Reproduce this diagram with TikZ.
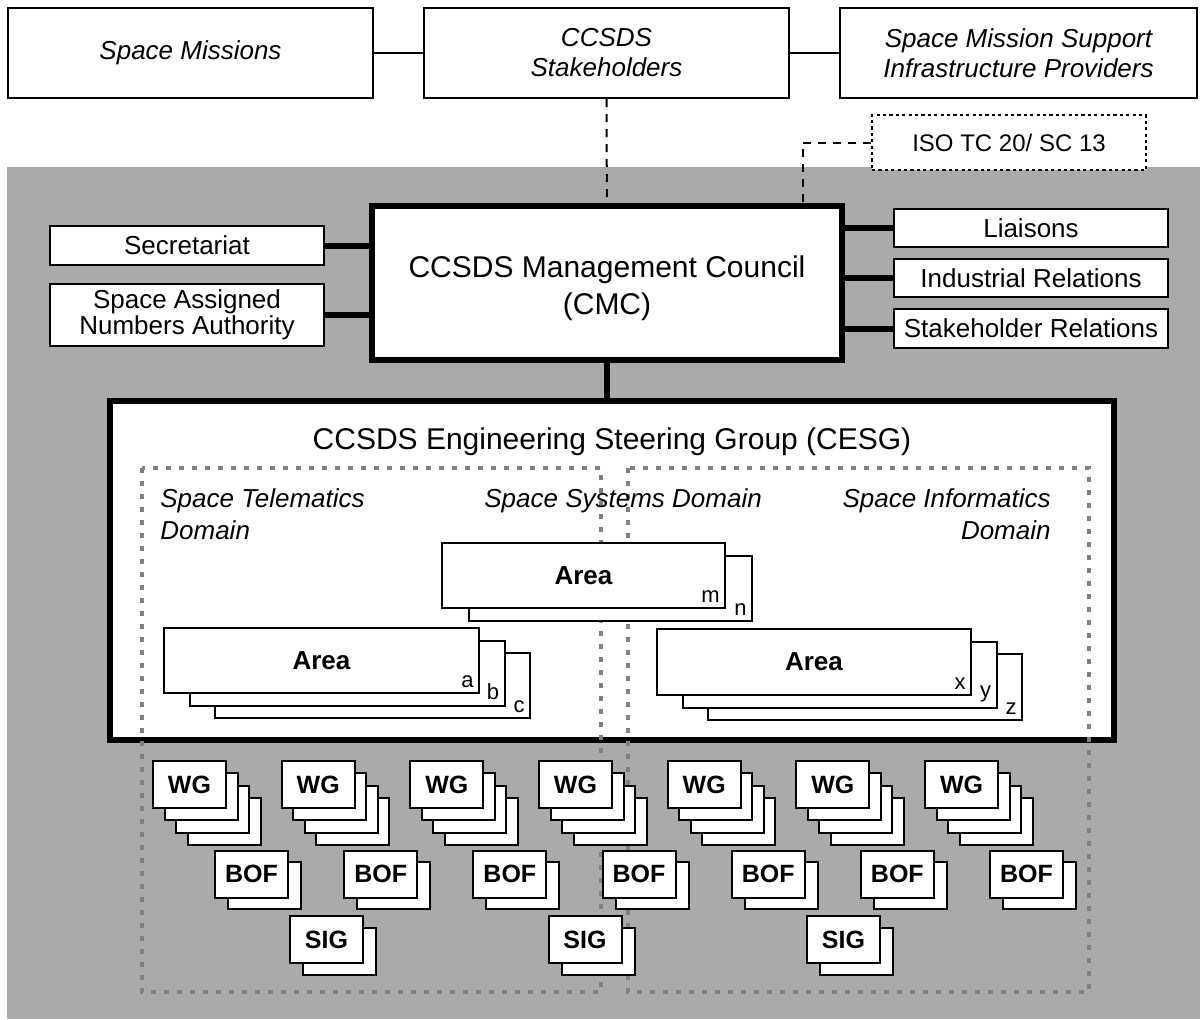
\documentclass[tikz,border=0pt]{standalone}
\usepackage{fontspec}
\setmainfont{Liberation Sans}
\usepackage{tikz}
\definecolor{orggray}{RGB}{170,170,170}
\definecolor{domgray}{RGB}{128,128,128}
\tikzset{
  box/.style={draw=black, line width=1pt, fill=white, inner sep=0pt, align=center,
    font=\fontsize{13}{13}\selectfont},
  itbox/.style={box, font=\fontsize{13}{15}\selectfont\itshape},
  bigbox/.style={box, line width=3pt},
  isobox/.style={box, line width=0.8pt, dash pattern=on 1.6pt off 1.6pt,
    font=\fontsize{12}{14}\selectfont},
  sidebox/.style={box, minimum width=137pt, minimum height=19.5pt},
  link/.style={line width=3pt},
  dashlink/.style={line width=1pt, dash pattern=on 4pt off 3.5pt},
  domframe/.style={draw=domgray, line width=2pt, dash pattern=on 2.5pt off 4pt},
  domlabel/.style={inner sep=0pt, font=\fontsize{13}{16}\selectfont\itshape},
  areabox/.style={box, font=\fontsize{13}{15}\bfseries\selectfont},
  tag/.style={anchor=south east, inner sep=3pt, font=\fontsize{11}{13}\selectfont},
  card/.style={box, minimum width=36.5pt, minimum height=23.5pt,
    font=\fontsize{12.5}{15}\bfseries\selectfont}
}

\begin{document}
\begin{tikzpicture}[x=0.5pt, y=-0.5pt]
  \useasboundingbox (0,0) rectangle (1200,1019);
  % CCSDS organisation background
  \fill[orggray] (7,167) rectangle (1200,1019);

  % Stakeholder row
  \node[itbox, minimum width=182.5pt, minimum height=45pt] (miss) at (190.5,53) {Space Missions};
  \node[itbox, minimum width=182.5pt, minimum height=45pt] (stake) at (606.5,53) {CCSDS\\Stakeholders};
  \node[itbox, minimum width=178.5pt, minimum height=45pt] (supp) at (1018.5,53) {Space Mission Support\\Infrastructure Providers};
  \draw[line width=1pt] (miss) -- (stake);
  \draw[line width=1pt] (stake) -- (supp);

  % Management council and its support
  \node[bigbox, minimum width=235pt, minimum height=77pt] (cmc) at (607,283) {};
  \node[align=center, inner sep=0pt, font=\fontsize{15}{18.5}\selectfont] (cmctext) at (607,288) {CCSDS Management Council\\(CMC)};
  \node[isobox, minimum width=137pt, minimum height=27.5pt] (iso) at (1009,142.5) {ISO TC 20/ SC 13};
  \node[sidebox] (secr) at (187,245.5) {Secretariat};
  \node[sidebox, minimum height=31pt] (sana) at (187,315) {Space Assigned\\Numbers Authority};
  \node[sidebox, minimum height=19pt] (liai) at (1031,228) {Liaisons};
  \node[sidebox, minimum height=19pt] (indu) at (1031,278) {Industrial Relations};
  \node[sidebox] (shrel) at (1031,328.5) {Stakeholder Relations};
  \draw[dashlink] (stake) -- (cmc);
  \draw[dashlink] (iso.west) -| ([xshift=98pt]cmc.north);
  \foreach \n in {secr,sana}
    \draw[link] (\n.east) -- (\n.east -| cmc.west);
  \foreach \n in {liai,indu,shrel}
    \draw[link] (\n.west) -- (\n.west -| cmc.east);

  % Engineering steering group
  \node[bigbox, minimum width=502pt, minimum height=169.5pt] (cesg) at (612,570.5) {};
  \node[anchor=base, inner sep=0pt, font=\fontsize{15}{18}\selectfont] (cesgtitle) at (612,449) {CCSDS Engineering Steering Group (CESG)};
  \draw[link] (cmc.south) -- (cmc.south |- cesg.north);

  % Domains
  \draw[domframe] (142,468) rectangle (601,992);
  \draw[domframe] (628,468) rectangle (1089,992);
  \node[domlabel, anchor=north west, align=left] (telem) at (160,488) {Space Telematics\\Domain};
  \node[domlabel, anchor=base west] (syst) at (484,507) {Space Systems Domain};
  \node[domlabel, anchor=north east, align=right] (infor) at (1051,488) {Space Informatics\\Domain};

  % Areas
  \foreach \l/\t in {1/n} {
    \node[areabox, minimum width=141.5pt, minimum height=32.5pt] (aream\l) at ({583.5+27*\l},{575.5+13*\l}) {};
    \node[tag] at (aream\l.south east) {\t};
  }
  \node[areabox, minimum width=141.5pt, minimum height=32.5pt] (aream0) at (583.5,575.5) {Area};
  \node[tag] at (aream0.south east) {m};
  \foreach \l/\t in {2/c,1/b} {
    \node[areabox, minimum width=157.5pt, minimum height=32.5pt] (areaa\l) at ({321.5+25.5*\l},{660.5+12.5*\l}) {};
    \node[tag] at (areaa\l.south east) {\t};
  }
  \node[areabox, minimum width=157.5pt, minimum height=32.5pt] (areaa0) at (321.5,660.5) {Area};
  \node[tag] at (areaa0.south east) {a};
  \foreach \l/\t in {2/z,1/y} {
    \node[areabox, minimum width=157pt, minimum height=33pt] (areax\l) at ({814+25.5*\l},{662+12.5*\l}) {};
    \node[tag] at (areax\l.south east) {\t};
  }
  \node[areabox, minimum width=157pt, minimum height=33pt] (areax0) at (814,662) {Area};
  \node[tag] at (areax0.south east) {x};

  % Working groups, BOFs and SIGs
  \foreach \k in {0,...,6} {
    \foreach \l in {3,2,1}
      \node[card] (wg\k-\l) at ({189.5+128.67*\k+11.5*\l},{784.5+12.4*\l}) {};
    \node[card] (wg\k-0) at ({189.5+128.67*\k},784.5) {WG};
    \node[card] (bof\k-1) at ({251.5+129.17*\k+13},{874+11.5}) {};
    \node[card] (bof\k-0) at ({251.5+129.17*\k},874) {BOF};
  }
  \foreach \k in {0,1,2} {
    \node[card] (sig\k-1) at ({326.5+258.5*\k+13},{939.5+11.5}) {};
    \node[card] (sig\k-0) at ({326.5+258.5*\k},939.5) {SIG};
  }
\end{tikzpicture}
\end{document}
